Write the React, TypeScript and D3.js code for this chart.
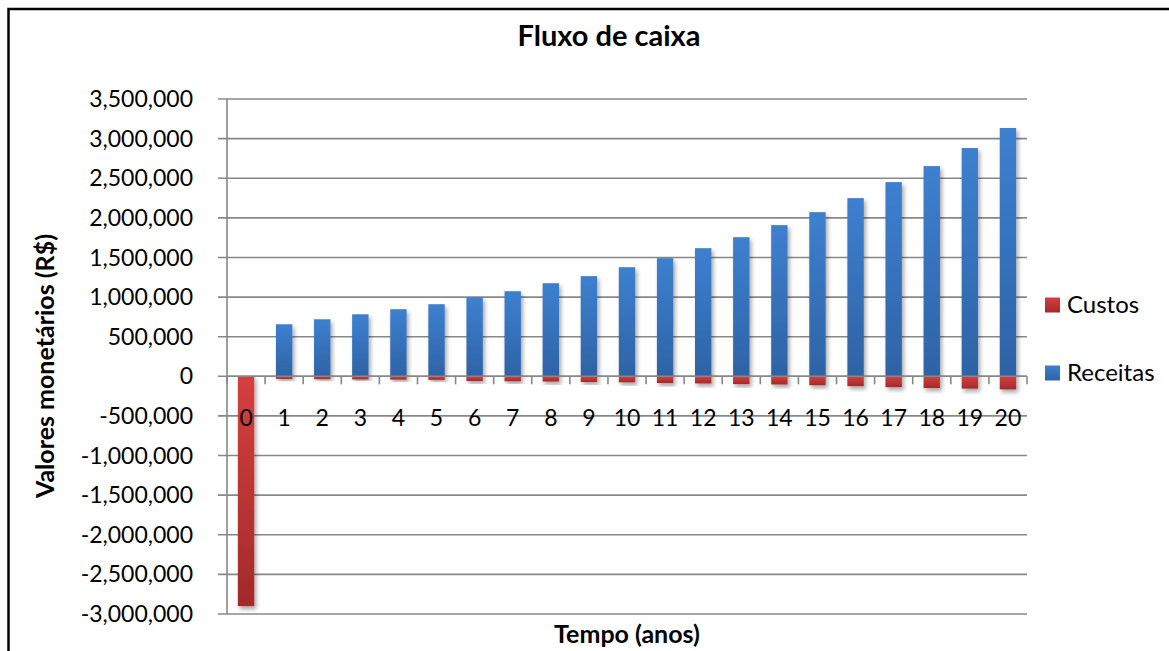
import React, { useEffect, useRef } from "react";
import * as d3 from "d3";

// anos 0..20
const anos = d3.range(0, 21).map((d) => String(d));

const receitas = [
  0, 657000, 720000, 783000, 847000, 910000, 998000, 1074000, 1175000, 1264000,
  1377000, 1491000, 1617000, 1756000, 1908000, 2072000, 2249000, 2451000,
  2653000, 2881000, 3134000,
];

const custos = [
  -2900000, -33000, -36000, -39000, -42000, -45000, -60000, -63000, -66000,
  -72000, -76000, -85000, -90000, -98000, -103000, -112000, -124000, -136000,
  -148000, -155000, -165000,
];

const yTicks = d3.range(-3000000, 3500001, 500000);

const W = 1169;
const H = 651;
const FONT = "Lato, 'Open Sans', sans-serif";

const App = () => {
  const ref = useRef(null);

  useEffect(() => {
    draw();
  }, []);

  const draw = () => {
    const svg = d3.select(ref.current);
    svg.selectAll("*").remove();

    const left = 227;
    const right = 1027;
    const top = 99;
    const bottom = 614;

    const x = d3.scaleBand().domain(anos).range([left, right]);
    const y = d3.scaleLinear().domain([-3000000, 3500000]).range([bottom, top]);
    const barW = x.bandwidth() * 0.43;
    const fmt = (d) => d3.format(",")(d).replace("\u2212", "-");

    const defs = svg.append("defs");
    const blue = defs
      .append("linearGradient")
      .attr("id", "gBlue")
      .attr("x1", 0)
      .attr("y1", 0)
      .attr("x2", 0)
      .attr("y2", 1);
    blue.append("stop").attr("offset", "0%").attr("stop-color", "#3d80d0");
    blue.append("stop").attr("offset", "100%").attr("stop-color", "#2e63a5");

    const red = defs
      .append("linearGradient")
      .attr("id", "gRed")
      .attr("x1", 0)
      .attr("y1", 0)
      .attr("x2", 0)
      .attr("y2", 1);
    red.append("stop").attr("offset", "0%").attr("stop-color", "#d4403e");
    red.append("stop").attr("offset", "100%").attr("stop-color", "#a22a2a");

    const shadow = defs
      .append("filter")
      .attr("id", "shadow")
      .attr("x", "-50%")
      .attr("y", "-50%")
      .attr("width", "200%")
      .attr("height", "200%");
    shadow
      .append("feDropShadow")
      .attr("dx", 2)
      .attr("dy", 3)
      .attr("stdDeviation", 2)
      .attr("flood-color", "#000")
      .attr("flood-opacity", 0.35);

    // background + outer border
    svg.append("rect").attr("width", W).attr("height", H).attr("fill", "#fff");
    svg
      .append("rect")
      .attr("x", 8.5)
      .attr("y", 9)
      .attr("width", 1300)
      .attr("height", 800)
      .attr("fill", "none")
      .attr("stroke", "#000")
      .attr("stroke-width", 2.5);

    // gridlines
    svg
      .append("g")
      .selectAll("line")
      .data(yTicks)
      .join("line")
      .attr("x1", left - 9)
      .attr("x2", right)
      .attr("y1", (d) => y(d))
      .attr("y2", (d) => y(d))
      .attr("stroke", "#888")
      .attr("stroke-width", 1.6);

    // y axis line
    svg
      .append("line")
      .attr("x1", left)
      .attr("x2", left)
      .attr("y1", top)
      .attr("y2", bottom)
      .attr("stroke", "#888")
      .attr("stroke-width", 1.6);

    // y tick labels
    svg
      .append("g")
      .selectAll("text")
      .data(yTicks)
      .join("text")
      .attr("x", 193)
      .attr("y", (d) => y(d))
      .attr("dy", "0.35em")
      .attr("text-anchor", "end")
      .attr("font-family", FONT)
      .attr("font-size", 23)
      .attr("fill", "#000")
      .text(fmt);

    // bars
    svg
      .append("g")
      .selectAll("rect")
      .data(receitas)
      .join("rect")
      .attr("x", (d, i) => x(anos[i]) + (x.bandwidth() - barW) / 2)
      .attr("y", (d) => y(d))
      .attr("width", barW)
      .attr("height", (d) => y(0) - y(d))
      .attr("fill", "url(#gBlue)")
      .attr("filter", "url(#shadow)");

    svg
      .append("g")
      .selectAll("rect")
      .data(custos)
      .join("rect")
      .attr("x", (d, i) => x(anos[i]) + (x.bandwidth() - barW) / 2)
      .attr("y", y(0))
      .attr("width", barW)
      .attr("height", (d) => y(d) - y(0))
      .attr("fill", "url(#gRed)")
      .attr("filter", "url(#shadow)");

    // category axis
    const y0 = y(0);
    svg
      .append("line")
      .attr("x1", left)
      .attr("x2", right)
      .attr("y1", y0)
      .attr("y2", y0)
      .attr("stroke", "#888")
      .attr("stroke-width", 1.6);

    svg
      .append("g")
      .selectAll("line")
      .data(d3.range(0, 22))
      .join("line")
      .attr("x1", (i) => left + i * x.step())
      .attr("x2", (i) => left + i * x.step())
      .attr("y1", y0)
      .attr("y2", y0 + 8)
      .attr("stroke", "#888")
      .attr("stroke-width", 1.6);

    svg
      .append("g")
      .selectAll("text")
      .data(anos)
      .join("text")
      .attr("x", (d) => x(d) + x.bandwidth() / 2)
      .attr("y", 418)
      .attr("dy", "0.35em")
      .attr("text-anchor", "middle")
      .attr("font-family", FONT)
      .attr("font-size", 23)
      .attr("fill", "#000")
      .text((d) => d);

    // titles
    svg
      .append("text")
      .attr("x", 609)
      .attr("y", 36)
      .attr("dy", "0.35em")
      .attr("text-anchor", "middle")
      .attr("font-family", FONT)
      .attr("font-weight", "bold")
      .attr("font-size", 29)
      .text("Fluxo de caixa");

    svg
      .append("text")
      .attr("x", 627)
      .attr("y", 634)
      .attr("dy", "0.35em")
      .attr("text-anchor", "middle")
      .attr("font-family", FONT)
      .attr("font-weight", "bold")
      .attr("font-size", 25)
      .text("Tempo (anos)");

    svg
      .append("text")
      .attr("transform", "translate(45,366) rotate(-90)")
      .attr("dy", "0.35em")
      .attr("text-anchor", "middle")
      .attr("font-family", FONT)
      .attr("font-weight", "bold")
      .attr("font-size", 25)
      .text("Valores monetários (R$)");

    // legend
    const legend = [
      { name: "Custos", fill: "url(#gRed)", y: 305 },
      { name: "Receitas", fill: "url(#gBlue)", y: 373 },
    ];
    const lg = svg
      .append("g")
      .selectAll("g")
      .data(legend)
      .join("g")
      .attr("transform", (d) => `translate(1045,${d.y})`);
    lg.append("rect")
      .attr("x", 0)
      .attr("y", -7.5)
      .attr("width", 15)
      .attr("height", 15)
      .attr("fill", (d) => d.fill);
    lg.append("text")
      .attr("x", 22)
      .attr("dy", "0.35em")
      .attr("font-family", FONT)
      .attr("font-size", 24)
      .text((d) => d.name);
  };

  return (
    <svg
      ref={ref}
      width={W}
      height={H}
      style={{ position: "absolute", left: 0, top: 0 }}
    ></svg>
  );
};

export default App;
